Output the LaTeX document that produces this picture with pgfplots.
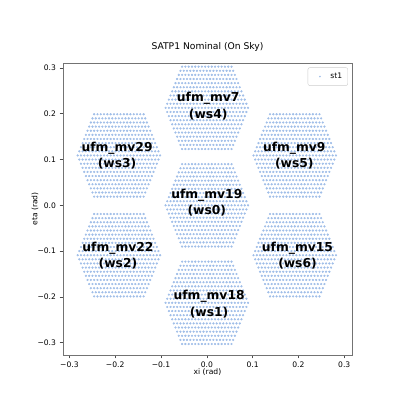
\documentclass[border=0pt]{standalone}
\usepackage{fontspec}
\setmainfont{DejaVu Sans}
\usepackage{pgfplots}
\usepackage{pgfplotstable}
\pgfplotsset{compat=1.18}
\definecolor{dotblue}{RGB}{160,190,232}
% detector offsets of one wafer (rad), relative to the wafer centre
\pgfplotstableread[row sep=\\]{
x y\\
-0.054 0.09\\ -0.0468 0.09\\ -0.0396 0.09\\ -0.0324 0.09\\ -0.0252 0.09\\ -0.018 0.09\\ -0.0108 0.09\\ -0.0036 0.09\\ 0.0036 0.09\\ 0.0108 0.09\\ 0.018 0.09\\ 0.0252 0.09\\ 0.0324 0.09\\ 0.0396 0.09\\ 0.0468 0.09\\ 0.054 0.09\\
-0.0576 0.081\\ -0.0504 0.081\\ -0.0432 0.081\\ -0.036 0.081\\ -0.0288 0.081\\ -0.0216 0.081\\ -0.0144 0.081\\ -0.0072 0.081\\ 0 0.081\\ 0.0072 0.081\\ 0.0144 0.081\\ 0.0216 0.081\\ 0.0288 0.081\\ 0.036 0.081\\ 0.0432 0.081\\ 0.0504 0.081\\ 0.0576 0.081\\
-0.0612 0.072\\ -0.054 0.072\\ -0.0468 0.072\\ -0.0396 0.072\\ -0.0324 0.072\\ -0.0252 0.072\\ -0.018 0.072\\ -0.0108 0.072\\ -0.0036 0.072\\ 0.0036 0.072\\ 0.0108 0.072\\ 0.018 0.072\\ 0.0252 0.072\\ 0.0324 0.072\\ 0.0396 0.072\\ 0.0468 0.072\\ 0.054 0.072\\ 0.0612 0.072\\
-0.0648 0.063\\ -0.0576 0.063\\ -0.0504 0.063\\ -0.0432 0.063\\ -0.036 0.063\\ -0.0288 0.063\\ -0.0216 0.063\\ -0.0144 0.063\\ -0.0072 0.063\\ 0 0.063\\ 0.0072 0.063\\ 0.0144 0.063\\ 0.0216 0.063\\ 0.0288 0.063\\ 0.036 0.063\\ 0.0432 0.063\\ 0.0504 0.063\\ 0.0576 0.063\\ 0.0648 0.063\\
-0.0684 0.054\\ -0.0612 0.054\\ -0.054 0.054\\ -0.0468 0.054\\ -0.0396 0.054\\ -0.0324 0.054\\ -0.0252 0.054\\ -0.018 0.054\\ -0.0108 0.054\\ -0.0036 0.054\\ 0.0036 0.054\\ 0.0108 0.054\\ 0.018 0.054\\ 0.0252 0.054\\ 0.0324 0.054\\ 0.0396 0.054\\ 0.0468 0.054\\ 0.054 0.054\\ 0.0612 0.054\\ 0.0684 0.054\\
-0.072 0.045\\ -0.0648 0.045\\ -0.0576 0.045\\ -0.0504 0.045\\ -0.0432 0.045\\ -0.036 0.045\\ -0.0288 0.045\\ -0.0216 0.045\\ -0.0144 0.045\\ -0.0072 0.045\\ 0 0.045\\ 0.0072 0.045\\ 0.0144 0.045\\ 0.0216 0.045\\ 0.0288 0.045\\ 0.036 0.045\\ 0.0432 0.045\\ 0.0504 0.045\\ 0.0576 0.045\\ 0.0648 0.045\\ 0.072 0.045\\
-0.0756 0.036\\ -0.0684 0.036\\ -0.0612 0.036\\ -0.054 0.036\\ -0.0468 0.036\\ -0.0396 0.036\\ -0.0324 0.036\\ -0.0252 0.036\\ -0.018 0.036\\ -0.0108 0.036\\ -0.0036 0.036\\ 0.0036 0.036\\ 0.0108 0.036\\ 0.018 0.036\\ 0.0252 0.036\\ 0.0324 0.036\\ 0.0396 0.036\\ 0.0468 0.036\\ 0.054 0.036\\ 0.0612 0.036\\ 0.0684 0.036\\ 0.0756 0.036\\
-0.0792 0.027\\ -0.072 0.027\\ -0.0648 0.027\\ -0.0576 0.027\\ -0.0504 0.027\\ -0.0432 0.027\\ -0.036 0.027\\ -0.0288 0.027\\ -0.0216 0.027\\ -0.0144 0.027\\ -0.0072 0.027\\ 0 0.027\\ 0.0072 0.027\\ 0.0144 0.027\\ 0.0216 0.027\\ 0.0288 0.027\\ 0.036 0.027\\ 0.0432 0.027\\ 0.0504 0.027\\ 0.0576 0.027\\ 0.0648 0.027\\ 0.072 0.027\\ 0.0792 0.027\\
-0.0828 0.018\\ -0.0756 0.018\\ -0.0684 0.018\\ -0.0612 0.018\\ -0.054 0.018\\ -0.0468 0.018\\ -0.0396 0.018\\ -0.0324 0.018\\ -0.0252 0.018\\ -0.018 0.018\\ -0.0108 0.018\\ -0.0036 0.018\\ 0.0036 0.018\\ 0.0108 0.018\\ 0.018 0.018\\ 0.0252 0.018\\ 0.0324 0.018\\ 0.0396 0.018\\ 0.0468 0.018\\ 0.054 0.018\\ 0.0612 0.018\\ 0.0684 0.018\\ 0.0756 0.018\\ 0.0828 0.018\\
-0.0864 0.009\\ -0.0792 0.009\\ -0.072 0.009\\ -0.0648 0.009\\ -0.0576 0.009\\ -0.0504 0.009\\ -0.0432 0.009\\ -0.036 0.009\\ -0.0288 0.009\\ -0.0216 0.009\\ -0.0144 0.009\\ -0.0072 0.009\\ 0 0.009\\ 0.0072 0.009\\ 0.0144 0.009\\ 0.0216 0.009\\ 0.0288 0.009\\ 0.036 0.009\\ 0.0432 0.009\\ 0.0504 0.009\\ 0.0576 0.009\\ 0.0648 0.009\\ 0.072 0.009\\ 0.0792 0.009\\ 0.0864 0.009\\
-0.09 0\\ -0.0828 0\\ -0.0756 0\\ -0.0684 0\\ -0.0612 0\\ -0.054 0\\ -0.0468 0\\ -0.0396 0\\ -0.0324 0\\ -0.0252 0\\ -0.018 0\\ -0.0108 0\\ -0.0036 0\\ 0.0036 0\\ 0.0108 0\\ 0.018 0\\ 0.0252 0\\ 0.0324 0\\ 0.0396 0\\ 0.0468 0\\ 0.054 0\\ 0.0612 0\\ 0.0684 0\\ 0.0756 0\\ 0.0828 0\\ 0.09 0\\
-0.0864 -0.009\\ -0.0792 -0.009\\ -0.072 -0.009\\ -0.0648 -0.009\\ -0.0576 -0.009\\ -0.0504 -0.009\\ -0.0432 -0.009\\ -0.036 -0.009\\ -0.0288 -0.009\\ -0.0216 -0.009\\ -0.0144 -0.009\\ -0.0072 -0.009\\ 0 -0.009\\ 0.0072 -0.009\\ 0.0144 -0.009\\ 0.0216 -0.009\\ 0.0288 -0.009\\ 0.036 -0.009\\ 0.0432 -0.009\\ 0.0504 -0.009\\ 0.0576 -0.009\\ 0.0648 -0.009\\ 0.072 -0.009\\ 0.0792 -0.009\\ 0.0864 -0.009\\
-0.0828 -0.018\\ -0.0756 -0.018\\ -0.0684 -0.018\\ -0.0612 -0.018\\ -0.054 -0.018\\ -0.0468 -0.018\\ -0.0396 -0.018\\ -0.0324 -0.018\\ -0.0252 -0.018\\ -0.018 -0.018\\ -0.0108 -0.018\\ -0.0036 -0.018\\ 0.0036 -0.018\\ 0.0108 -0.018\\ 0.018 -0.018\\ 0.0252 -0.018\\ 0.0324 -0.018\\ 0.0396 -0.018\\ 0.0468 -0.018\\ 0.054 -0.018\\ 0.0612 -0.018\\ 0.0684 -0.018\\ 0.0756 -0.018\\ 0.0828 -0.018\\
-0.0792 -0.027\\ -0.072 -0.027\\ -0.0648 -0.027\\ -0.0576 -0.027\\ -0.0504 -0.027\\ -0.0432 -0.027\\ -0.036 -0.027\\ -0.0288 -0.027\\ -0.0216 -0.027\\ -0.0144 -0.027\\ -0.0072 -0.027\\ 0 -0.027\\ 0.0072 -0.027\\ 0.0144 -0.027\\ 0.0216 -0.027\\ 0.0288 -0.027\\ 0.036 -0.027\\ 0.0432 -0.027\\ 0.0504 -0.027\\ 0.0576 -0.027\\ 0.0648 -0.027\\ 0.072 -0.027\\ 0.0792 -0.027\\
-0.0756 -0.036\\ -0.0684 -0.036\\ -0.0612 -0.036\\ -0.054 -0.036\\ -0.0468 -0.036\\ -0.0396 -0.036\\ -0.0324 -0.036\\ -0.0252 -0.036\\ -0.018 -0.036\\ -0.0108 -0.036\\ -0.0036 -0.036\\ 0.0036 -0.036\\ 0.0108 -0.036\\ 0.018 -0.036\\ 0.0252 -0.036\\ 0.0324 -0.036\\ 0.0396 -0.036\\ 0.0468 -0.036\\ 0.054 -0.036\\ 0.0612 -0.036\\ 0.0684 -0.036\\ 0.0756 -0.036\\
-0.072 -0.045\\ -0.0648 -0.045\\ -0.0576 -0.045\\ -0.0504 -0.045\\ -0.0432 -0.045\\ -0.036 -0.045\\ -0.0288 -0.045\\ -0.0216 -0.045\\ -0.0144 -0.045\\ -0.0072 -0.045\\ 0 -0.045\\ 0.0072 -0.045\\ 0.0144 -0.045\\ 0.0216 -0.045\\ 0.0288 -0.045\\ 0.036 -0.045\\ 0.0432 -0.045\\ 0.0504 -0.045\\ 0.0576 -0.045\\ 0.0648 -0.045\\ 0.072 -0.045\\
-0.0684 -0.054\\ -0.0612 -0.054\\ -0.054 -0.054\\ -0.0468 -0.054\\ -0.0396 -0.054\\ -0.0324 -0.054\\ -0.0252 -0.054\\ -0.018 -0.054\\ -0.0108 -0.054\\ -0.0036 -0.054\\ 0.0036 -0.054\\ 0.0108 -0.054\\ 0.018 -0.054\\ 0.0252 -0.054\\ 0.0324 -0.054\\ 0.0396 -0.054\\ 0.0468 -0.054\\ 0.054 -0.054\\ 0.0612 -0.054\\ 0.0684 -0.054\\
-0.0648 -0.063\\ -0.0576 -0.063\\ -0.0504 -0.063\\ -0.0432 -0.063\\ -0.036 -0.063\\ -0.0288 -0.063\\ -0.0216 -0.063\\ -0.0144 -0.063\\ -0.0072 -0.063\\ 0 -0.063\\ 0.0072 -0.063\\ 0.0144 -0.063\\ 0.0216 -0.063\\ 0.0288 -0.063\\ 0.036 -0.063\\ 0.0432 -0.063\\ 0.0504 -0.063\\ 0.0576 -0.063\\ 0.0648 -0.063\\
-0.0612 -0.072\\ -0.054 -0.072\\ -0.0468 -0.072\\ -0.0396 -0.072\\ -0.0324 -0.072\\ -0.0252 -0.072\\ -0.018 -0.072\\ -0.0108 -0.072\\ -0.0036 -0.072\\ 0.0036 -0.072\\ 0.0108 -0.072\\ 0.018 -0.072\\ 0.0252 -0.072\\ 0.0324 -0.072\\ 0.0396 -0.072\\ 0.0468 -0.072\\ 0.054 -0.072\\ 0.0612 -0.072\\
-0.0576 -0.081\\ -0.0504 -0.081\\ -0.0432 -0.081\\ -0.036 -0.081\\ -0.0288 -0.081\\ -0.0216 -0.081\\ -0.0144 -0.081\\ -0.0072 -0.081\\ 0 -0.081\\ 0.0072 -0.081\\ 0.0144 -0.081\\ 0.0216 -0.081\\ 0.0288 -0.081\\ 0.036 -0.081\\ 0.0432 -0.081\\ 0.0504 -0.081\\ 0.0576 -0.081\\
-0.054 -0.09\\ -0.0468 -0.09\\ -0.0396 -0.09\\ -0.0324 -0.09\\ -0.0252 -0.09\\ -0.018 -0.09\\ -0.0108 -0.09\\ -0.0036 -0.09\\ 0.0036 -0.09\\ 0.0108 -0.09\\ 0.018 -0.09\\ 0.0252 -0.09\\ 0.0324 -0.09\\ 0.0396 -0.09\\ 0.0468 -0.09\\ 0.054 -0.09\\
}\hexpts
\pgfplotsset{wafer/.style={only marks, mark=*, mark size=0.9pt, color=dotblue,
  mark options={draw=none, fill=dotblue}}}
\begin{document}
\begin{tikzpicture}
\path[use as bounding box] (0,0) rectangle (395pt,396pt);
\begin{axis}[
  scale only axis, width=289pt, height=292pt,
  at={(63pt,41pt)}, anchor=south west,
  xmin=-0.314, xmax=0.317, ymin=-0.327, ymax=0.311,
  xtick={-0.3,-0.2,-0.1,0,0.1,0.2,0.3},
  xticklabels={−0.3,−0.2,−0.1,0.0,0.1,0.2,0.3},
  ytick={-0.3,-0.2,-0.1,0,0.1,0.2,0.3},
  yticklabels={−0.3,−0.2,−0.1,0.0,0.1,0.2,0.3},
  tick align=outside, tick pos=left, major tick length=3.5pt,
  axis line style={black!55, line width=0.6pt},
  tick style={black!70, line width=0.6pt},
  ticklabel style={font=\fontsize{7.6}{9}\selectfont},
  xlabel={xi (rad)}, ylabel={eta (rad)},
  label style={font=\fontsize{7.6}{9}\selectfont},
  xlabel style={at={(axis description cs:0.5,-0.057)}, anchor=center},
  ylabel style={at={(axis description cs:-0.097,0.5)}, anchor=center},
  title={SATP1 Nominal (On Sky)},
  title style={font=\fontsize{9.2}{11}\selectfont, at={(axis description cs:0.5,1.034)}, anchor=center},
  legend style={at={(axis description cs:0.986,0.985)}, anchor=north east,
    draw=black!20, rounded corners=2pt, font=\fontsize{7.6}{9}\selectfont,
    inner xsep=3.5pt, inner ysep=3.5pt},
  legend cell align=left,
  legend image code/.code={\path[draw=none, fill=none] (0cm,0cm) -- (0.6cm,0cm); \fill[dotblue, draw=none] (0.3cm,0cm) circle (0.9pt);},
  after end axis/.code={
    \begin{scope}[every node/.style={font=\bfseries\fontsize{12.3}{16.5}\selectfont, align=center, text=black}]
    \node at (axis cs:0.003,0.217) {ufm\_mv7\\(ws4)};
    \node at (axis cs:-0.196,0.109) {ufm\_mv29\\(ws3)};
    \node at (axis cs:0.191,0.109) {ufm\_mv9\\(ws5)};
    \node at (axis cs:0,0.006) {ufm\_mv19\\(ws0)};
    \node at (axis cs:-0.194,-0.11) {ufm\_mv22\\(ws2)};
    \node at (axis cs:0.198,-0.11) {ufm\_mv15\\(ws6)};
    \node at (axis cs:0.005,-0.216) {ufm\_mv18\\(ws1)};
    \end{scope}
  },
]
\addplot[wafer] table[x expr=\thisrow{x}, y expr=\thisrow{y}]{\hexpts};
\addlegendentry{st1}
\addplot[wafer, forget plot] table[x expr=\thisrow{x}, y expr=\thisrow{y}+0.213]{\hexpts};
\addplot[wafer, forget plot] table[x expr=\thisrow{x}, y expr=\thisrow{y}-0.213]{\hexpts};
\addplot[wafer, forget plot] table[x expr=\thisrow{x}-0.192, y expr=\thisrow{y}+0.109]{\hexpts};
\addplot[wafer, forget plot] table[x expr=\thisrow{x}+0.192, y expr=\thisrow{y}+0.109]{\hexpts};
\addplot[wafer, forget plot] table[x expr=\thisrow{x}-0.192, y expr=\thisrow{y}-0.109]{\hexpts};
\addplot[wafer, forget plot] table[x expr=\thisrow{x}+0.192, y expr=\thisrow{y}-0.109]{\hexpts};
\end{axis}
\end{tikzpicture}
\end{document}
